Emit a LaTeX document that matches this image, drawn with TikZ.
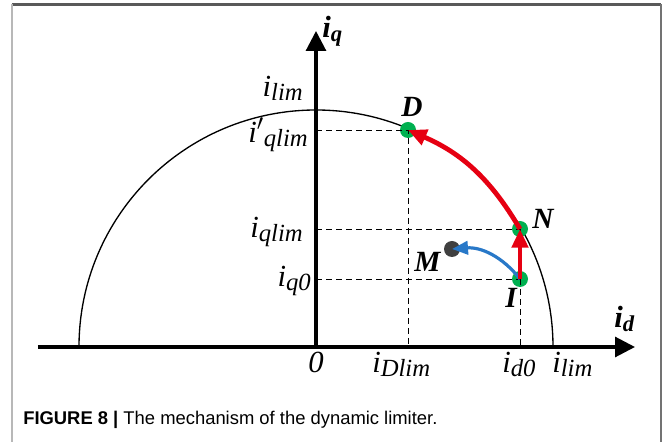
\documentclass[tikz,border=0pt]{standalone}
\usepackage{fontspec}
\setmainfont{Liberation Serif}
\newfontfamily\capfont{Liberation Sans}
\usepackage{xcolor}
\definecolor{limRed}   {HTML}{E60012}
\definecolor{limBlue}  {HTML}{2878C8}
\definecolor{ptGreen}  {HTML}{00B050}
\definecolor{ptDark}   {HTML}{404040}
\usetikzlibrary{arrows.meta, positioning, calc}
\tikzset{
    axis/.style={-{Triangle[length=15pt, width=15pt]}, line width=2.3pt},
    guide/.style={dash pattern=on 4.5pt off 3pt, line width=0.6pt},
    boundary/.style={line width=1pt},
    pt/.style={circle, fill=ptGreen, minimum size=12pt, inner sep=0pt},
    ptm/.style={pt, fill=ptDark},
    redarr/.style={-{Triangle[length=14pt, width=12pt]}, line width=3.6pt, limRed},
    bluearr/.style={-{Triangle[length=12pt, width=10pt]}, line width=2.4pt, limBlue},
    lbl/.style={font=\fontsize{23}{27}\selectfont, inner sep=0pt},
    blbl/.style={font=\fontsize{22}{26}\selectfont\bfseries\itshape, inner sep=0pt},
    axlbl/.style={font=\fontsize{23}{27}\selectfont\bfseries\itshape, inner sep=0pt},
    frame/.style={line width=1.6pt},
}
% i with a large, slightly lowered subscript
\newcommand{\isub}[2][]{\textit{i}#1\raisebox{-3pt}{\fontsize{18.5}{21}\selectfont\textit{#2}}}
\newcommand{\bisub}[1]{\textit{i}\raisebox{-2.5pt}{\fontsize{17}{19}\selectfont\textit{#1}}}

\begin{document}
\begin{tikzpicture}[x=0.75pt, y=0.75pt]
    \useasboundingbox (-316,-95) rectangle (348,347);
    % page frame
    \draw[frame, black!65] (-304,342.5) -- (345,342.5);
    \draw[frame, black!28] (-304,342.5) -- (-304,-95);
    \draw[frame, line width=1.1pt, black!55] (345,342.5) -- (345,-95);

    % current limit circle
    \draw[boundary] (237,0) arc[start angle=0, end angle=180, radius=237];

    % operating points
    \node[pt]  (D) at (92,217)  {};
    \node[pt]  (N) at (204,118) {};
    \node[pt]  (I) at (204,68)  {};
    \node[ptm] (M) at (136,98)  {};

    % guide lines
    \coordinate (qD) at (0,217);
    \coordinate (qN) at (0,118);
    \coordinate (qI) at (0,68);
    \coordinate (dD) at (92,0);
    \coordinate (dI) at (204,0);
    \draw[guide] (qD) -- (D.center) -- (dD);
    \draw[guide] (qN) -- (N.center);
    \draw[guide] (qI) -- (I.center);
    \draw[guide] (N.center) -- (dI);

    % axes
    \coordinate (o)  at (0,0);
    \coordinate (dL) at (-278,0);
    \coordinate (dR) at (319,0);
    \coordinate (qT) at (0,316);
    \draw[axis] (dL) -- (dR);
    \draw[axis] (o) -- (qT);

    % trajectories
    \draw[bluearr] (I.center) to[bend right=28] (M.center);
    \draw[redarr] (I.center) -- (N.center);
    \draw[redarr] (N.center) to[bend right=18] (D.center);

    % axis labels
    \node[axlbl, anchor=base west] (lq) at (6,309) {\bisub{q}};
    \node[axlbl, anchor=base west] (ld) at (298,19) {\bisub{d}};
    \node[lbl, anchor=base east] (lim1)  at (-13,250) {\isub{lim}};
    \node[lbl, anchor=base east] (qlim2) at (-8,204)  {\isub[\ensuremath{'}]{qlim}};
    \node[lbl, anchor=base east] (qlim)  at (-13,109) {\isub{qlim}};
    \node[lbl, anchor=base east] (q0)    at (-5,60)   {\isub{q0}};
    \node[lbl, anchor=base west] (zero)  at (-8,-26)  {\textit{0}};
    \node[lbl, anchor=base west] (Dlim)  at (56,-26)  {\isub{Dlim}};
    \node[lbl, anchor=base west] (d0)    at (186,-26) {\isub{d0}};
    \node[lbl, anchor=base west] (lim2)  at (236,-26) {\isub{lim}};

    % point labels
    \node[blbl, anchor=base west] (lD) at (85,230) {D};
    \node[blbl, anchor=base west] (lN) at (216,118) {N};
    \node[blbl, anchor=base west] (lM) at (98,75) {M};
    \node[blbl, anchor=base west] (lI) at (189,39) {I};

    % caption
    \node[anchor=base west, inner sep=0pt, font=\capfont\fontsize{13.8}{16}\selectfont] (cap) at (-293,-78)
        {\textbf{FIGURE 8 |} The mechanism of the dynamic limiter.};
\end{tikzpicture}
\end{document}
